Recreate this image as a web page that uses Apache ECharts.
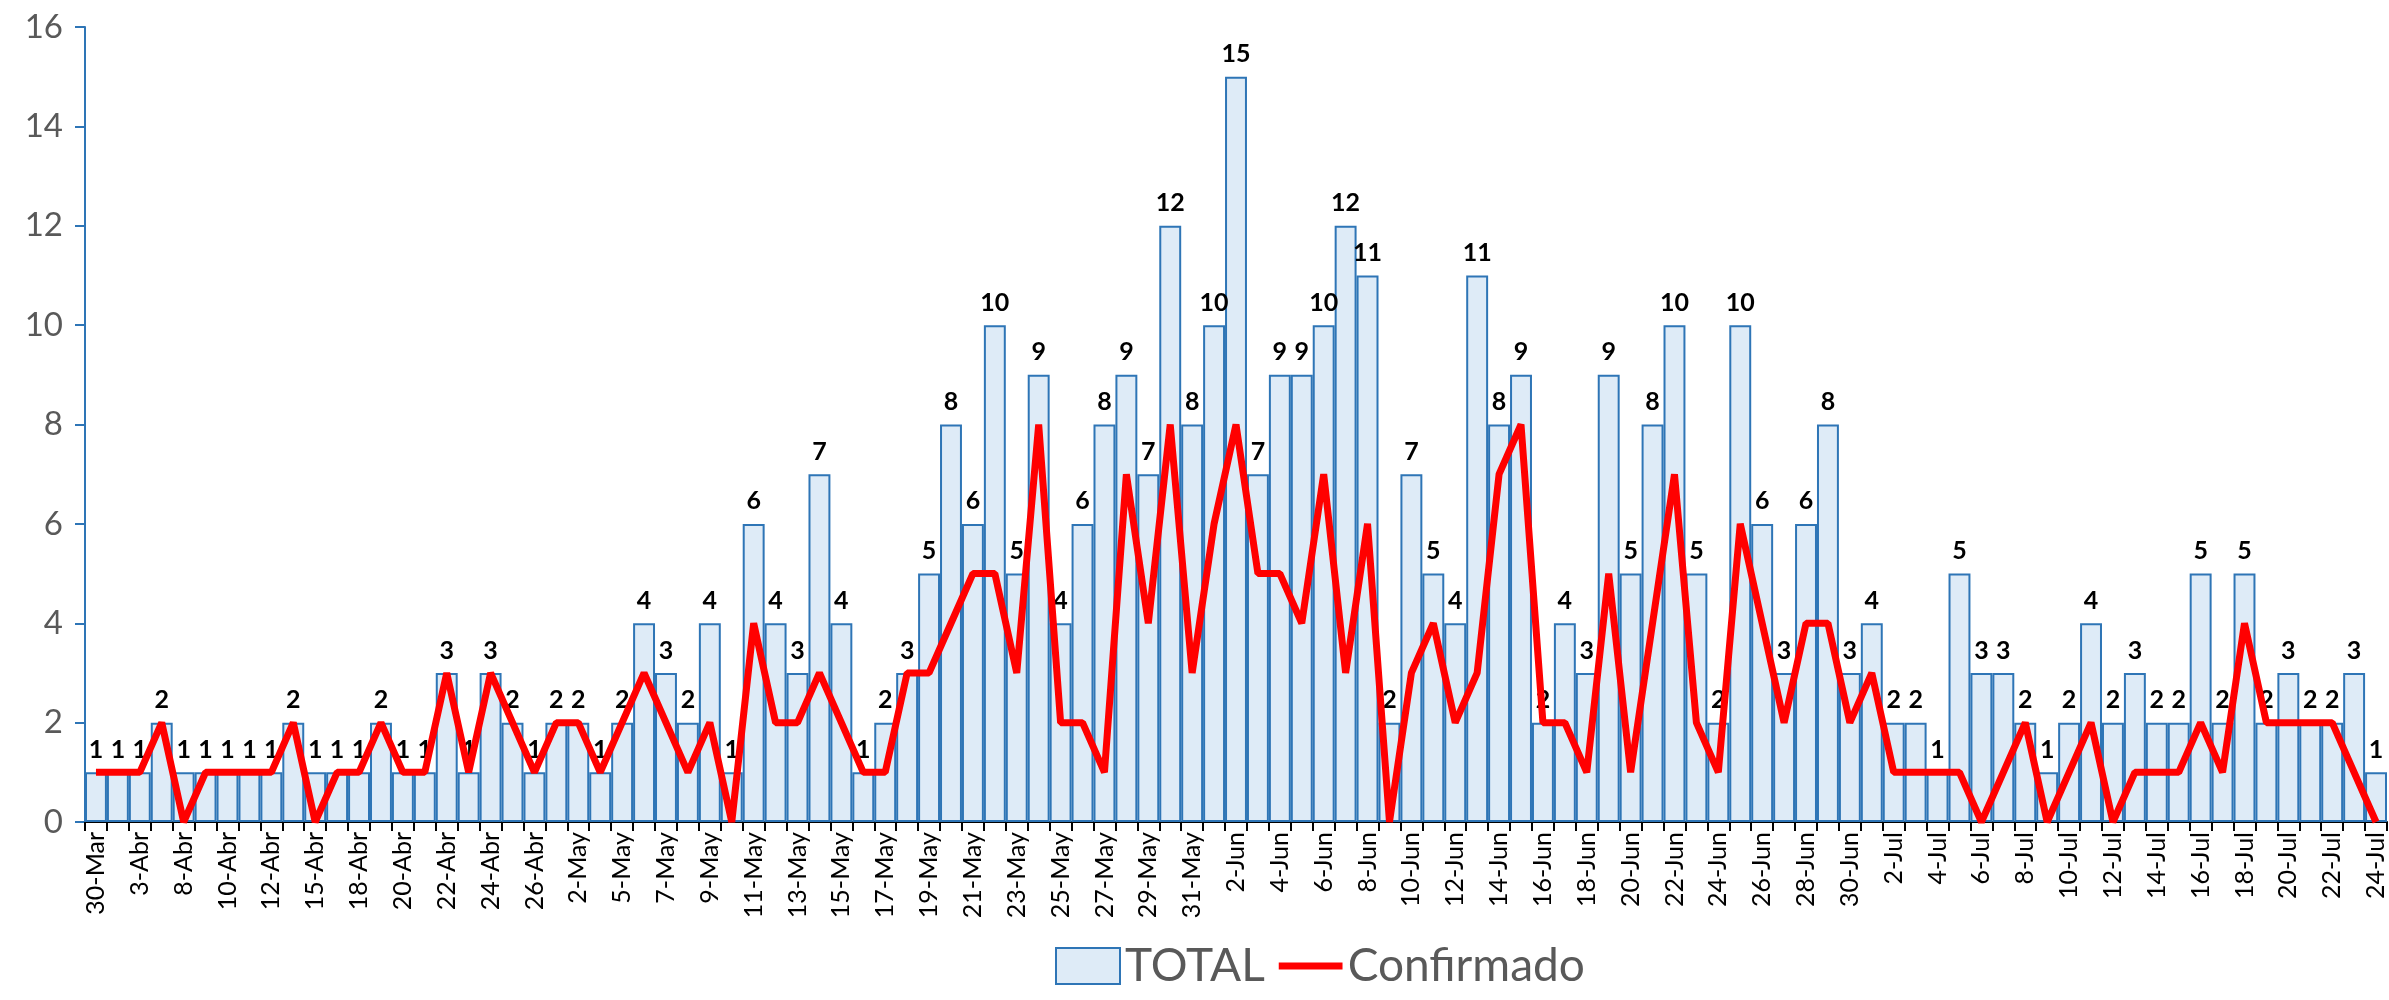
<!DOCTYPE html>
<html>
<head>
<meta charset="utf-8">
<script src="https://cdn.jsdelivr.net/npm/echarts@6/dist/echarts.min.js"></script>
<style>
html,body{margin:0;padding:0;background:#fff;}
#chart{width:2389px;height:1000px;}
</style>
</head>
<body>
<div id="chart"></div>
<script>
const categories = [
 '30-Mar','1-Abr','3-Abr','6-Abr','8-Abr','9-Abr','10-Abr','11-Abr','12-Abr','14-Abr',
 '15-Abr','17-Abr','18-Abr','19-Abr','20-Abr','21-Abr','22-Abr','23-Abr','24-Abr','25-Abr',
 '26-Abr','30-Abr','2-May','4-May','5-May','6-May','7-May','8-May','9-May','10-May',
 '11-May','12-May','13-May','14-May','15-May','16-May','17-May','18-May','19-May','20-May',
 '21-May','22-May','23-May','24-May','25-May','26-May','27-May','28-May','29-May','30-May',
 '31-May','1-Jun','2-Jun','3-Jun','4-Jun','5-Jun','6-Jun','7-Jun','8-Jun','9-Jun',
 '10-Jun','11-Jun','12-Jun','13-Jun','14-Jun','15-Jun','16-Jun','17-Jun','18-Jun','19-Jun',
 '20-Jun','21-Jun','22-Jun','23-Jun','24-Jun','25-Jun','26-Jun','27-Jun','28-Jun','29-Jun',
 '30-Jun','1-Jul','2-Jul','3-Jul','4-Jul','5-Jul','6-Jul','7-Jul','8-Jul','9-Jul',
 '10-Jul','11-Jul','12-Jul','13-Jul','14-Jul','15-Jul','16-Jul','17-Jul','18-Jul','19-Jul',
 '20-Jul','21-Jul','22-Jul','23-Jul','24-Jul'
];
const totalValues = [
 1,1,1,2,1,1,1,1,1,2,
 1,1,1,2,1,1,3,1,3,2,
 1,2,2,1,2,4,3,2,4,1,
 6,4,3,7,4,1,2,3,5,8,
 6,10,5,9,4,6,8,9,7,12,
 8,10,15,7,9,9,10,12,11,2,
 7,5,4,11,8,9,2,4,3,9,
 5,8,10,5,2,10,6,3,6,8,
 3,4,2,2,1,5,3,3,2,1,
 2,4,2,3,2,2,5,2,5,2,
 3,2,2,3,1
];
const confirmadoValues = [
 1,1,1,2,0,1,1,1,1,2,
 0,1,1,2,1,1,3,1,3,2,
 1,2,2,1,2,3,2,1,2,0,
 4,2,2,3,2,1,1,3,3,4,
 5,5,3,8,2,2,1,7,4,8,
 3,6,8,5,5,4,7,3,6,0,
 3,4,2,3,7,8,2,2,1,5,
 1,4,7,2,1,6,4,2,4,4,
 2,3,1,1,1,1,0,1,2,0,
 1,2,0,1,1,1,2,1,4,2,
 2,2,2,1,0
];
const seriesNames = ['TOTAL','Confirmado'];

const chart = echarts.init(document.getElementById('chart'), null, {renderer:'canvas'});
const FONT = 'Lato';
chart.setOption({
  animation: false,
  backgroundColor: '#ffffff',
  textStyle: {fontFamily: FONT},
  grid: {left: 85, right: 2, top: 27, bottom: 178, outerBoundsMode: 'none'},
  legend: {
    data: [
      {name: seriesNames[0], icon: 'rect'},
      {name: seriesNames[1], icon: 'path://M0,0 L0.01,0 L0,0.01 Z M0,14 L62,14 L62,21 L0,21 Z M0,35 L0.01,35 L0,34.99 Z'}
    ],
    bottom: 6,
    left: 1050,
    itemGap: 14,
    itemWidth: 64,
    itemHeight: 36,
    textStyle: {fontFamily: FONT, fontSize: 46, color: '#595959'}
  },
  xAxis: {
    type: 'category',
    data: categories,
    boundaryGap: true,
    axisLine: {show: true, lineStyle: {color: '#000000', width: 2}},
    axisTick: {show: true, interval: 0, alignWithLabel: false, length: 9, lineStyle: {color: '#000000', width: 2}},
    axisLabel: {interval: 1, rotate: 90, fontSize: 25, color: '#000000', fontFamily: FONT, margin: 10, hideOverlap: false},
    splitLine: {show: false}
  },
  yAxis: {
    type: 'value',
    min: 0, max: 16, interval: 2,
    axisLine: {show: true, lineStyle: {color: '#2E75B6', width: 2}},
    axisTick: {show: true, length: 10, lineStyle: {color: '#2E75B6', width: 2}},
    axisLabel: {fontSize: 33, color: '#595959', fontFamily: FONT, margin: 22},
    splitLine: {show: false}
  },
  series: [
    {
      name: seriesNames[0],
      type: 'bar',
      data: totalValues,
      barCategoryGap: '0%',
      itemStyle: {color: '#DEEBF7', borderColor: '#2E75B6', borderWidth: 2},
      label: {show: true, position: 'top', distance: 10, fontSize: 25, fontWeight: 'bold', color: '#000000', fontFamily: FONT},
      z: 2
    },
    {
      name: seriesNames[1],
      type: 'line',
      data: confirmadoValues,
      symbol: 'none',
      showSymbol: false,
      lineStyle: {color: '#FF0000', width: 7},
      itemStyle: {color: '#FF0000'},
      z: 3
    }
  ]
});
</script>
</body>
</html>
